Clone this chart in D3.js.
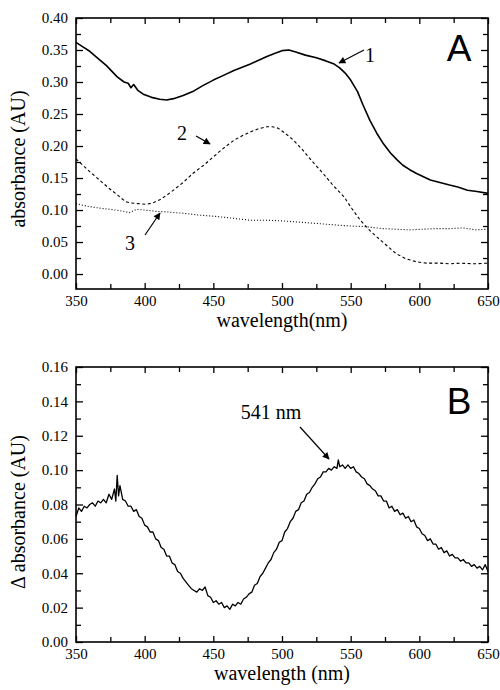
<!DOCTYPE html>
<html>
<head>
<meta charset="utf-8">
<script src="https://cdn.jsdelivr.net/npm/d3@7"></script>
<style>
  body { margin: 0; background: #fff; }
</style>
</head>
<body>
<script>
// ---- data ----
// Panel A, curve 1 (solid)
var wlA1 = [350, 355, 360, 367, 372, 380, 385, 388, 390, 392, 395, 399, 405, 411, 416, 421, 428, 435, 442, 450, 457, 465, 471, 477, 483, 489, 495, 500, 505, 510, 517, 525, 532, 538, 542, 546, 550, 555, 559, 564, 569, 574, 579, 584, 588, 593, 598, 603, 608, 615, 622, 628, 635, 642, 650];
var absA1 = [0.362, 0.355, 0.348, 0.335, 0.326, 0.308, 0.300, 0.298, 0.291, 0.296, 0.287, 0.281, 0.276, 0.273, 0.272, 0.274, 0.279, 0.285, 0.294, 0.303, 0.310, 0.318, 0.323, 0.328, 0.334, 0.340, 0.345, 0.349, 0.350, 0.347, 0.342, 0.338, 0.333, 0.328, 0.322, 0.314, 0.303, 0.285, 0.264, 0.240, 0.220, 0.203, 0.189, 0.178, 0.170, 0.163, 0.157, 0.152, 0.147, 0.143, 0.139, 0.136, 0.131, 0.129, 0.126];

// Panel A, curve 2 (dashed)
var wlA2 = [350, 355, 360, 367, 374, 380, 386, 390, 395, 401, 406, 411, 416, 421, 428, 435, 443, 450, 457, 465, 471, 477, 483, 489, 493, 497, 501, 508, 515, 522, 530, 537, 545, 551, 557, 563, 569, 576, 583, 590, 598, 605, 615, 622, 630, 640, 650];
var absA2 = [0.180, 0.170, 0.160, 0.147, 0.134, 0.124, 0.113, 0.111, 0.110, 0.109, 0.111, 0.116, 0.123, 0.131, 0.143, 0.157, 0.170, 0.183, 0.196, 0.209, 0.216, 0.222, 0.227, 0.230, 0.230, 0.228, 0.222, 0.210, 0.194, 0.176, 0.157, 0.139, 0.121, 0.102, 0.084, 0.070, 0.058, 0.045, 0.032, 0.024, 0.019, 0.017, 0.017, 0.016, 0.017, 0.016, 0.017];

// Panel A, curve 3 (dotted)
var wlA3 = [350, 358, 367, 375, 382, 389, 394, 400, 408, 416, 428, 440, 452, 465, 477, 489, 501, 513, 525, 537, 549, 561, 573, 583, 593, 603, 612, 622, 632, 641, 650];
var absA3 = [0.110, 0.106, 0.103, 0.101, 0.099, 0.096, 0.101, 0.100, 0.098, 0.097, 0.095, 0.092, 0.090, 0.087, 0.084, 0.084, 0.083, 0.081, 0.079, 0.077, 0.075, 0.074, 0.071, 0.070, 0.069, 0.070, 0.071, 0.071, 0.072, 0.069, 0.070];

// Panel B, difference spectrum (noisy trace, read every ~2 nm)
var wlB = [350, 352, 354, 356, 358, 360, 362, 364, 366, 368, 370, 372, 374, 376, 378, 379, 380, 381, 382, 384, 386, 388, 390, 392, 394, 396, 398, 400,
	402, 404, 406, 408, 410, 412, 414, 416, 418, 420, 422, 424, 426, 428, 430, 432, 434, 436, 438, 440, 442, 444, 446, 448, 450,
	452, 454, 456, 458, 460, 462, 464, 466, 468, 470, 472, 474, 476, 478, 480, 482, 484, 486, 488, 490, 492, 494, 496, 498, 500,
	502, 504, 506, 508, 510, 512, 514, 516, 518, 520, 522, 524, 526, 528, 530, 532, 534, 536, 538, 540, 541, 542, 544, 546, 548, 550,
	552, 554, 556, 558, 560, 562, 564, 566, 568, 570, 572, 574, 576, 578, 580, 582, 584, 586, 588, 590, 592, 594, 596, 598, 600,
	602, 604, 606, 608, 610, 612, 614, 616, 618, 620, 622, 624, 626, 628, 630, 632, 634, 636, 638, 640, 642, 644, 646, 648, 650];
var absB = [0.073, 0.078, 0.076, 0.079, 0.078, 0.080, 0.081, 0.079, 0.082, 0.081, 0.083, 0.081, 0.086, 0.083, 0.089, 0.082, 0.097, 0.085, 0.091, 0.083, 0.082, 0.079, 0.079, 0.076, 0.077, 0.073, 0.072, 0.068,
	0.067, 0.064, 0.064, 0.060, 0.059, 0.055, 0.054, 0.050, 0.050, 0.046, 0.045, 0.041, 0.040, 0.037, 0.035, 0.033, 0.031, 0.030, 0.029, 0.031, 0.030, 0.032, 0.027, 0.026, 0.023,
	0.024, 0.022, 0.023, 0.020, 0.021, 0.019, 0.022, 0.021, 0.023, 0.022, 0.025, 0.026, 0.028, 0.029, 0.033, 0.034, 0.038, 0.040, 0.043, 0.046, 0.048, 0.052, 0.054, 0.058, 0.059,
	0.064, 0.066, 0.070, 0.072, 0.076, 0.077, 0.081, 0.082, 0.086, 0.087, 0.090, 0.092, 0.095, 0.096, 0.099, 0.099, 0.101, 0.100, 0.102, 0.101, 0.106, 0.102, 0.103, 0.101, 0.103, 0.101,
	0.102, 0.099, 0.098, 0.096, 0.095, 0.092, 0.091, 0.089, 0.088, 0.085, 0.085, 0.082, 0.082, 0.078, 0.079, 0.076, 0.077, 0.074, 0.075, 0.072, 0.073, 0.070, 0.071, 0.067, 0.066,
	0.063, 0.062, 0.059, 0.060, 0.057, 0.057, 0.054, 0.055, 0.052, 0.053, 0.050, 0.051, 0.049, 0.049, 0.047, 0.048, 0.046, 0.046, 0.044, 0.045, 0.043, 0.044, 0.042, 0.045, 0.041];

var xTicks = [350, 400, 450, 500, 550, 600, 650];
var yTicksA = [0.00, 0.05, 0.10, 0.15, 0.20, 0.25, 0.30, 0.35, 0.40];
var yTicksB = [0.00, 0.02, 0.04, 0.06, 0.08, 0.10, 0.12, 0.14, 0.16];

var width = 500, height = 690;
var serif = "Liberation Serif";
var sans = "Liberation Sans";

var svg = d3.select("body").append("svg")
	.attr("width", width)
	.attr("height", height)
	.style("font-family", serif);

// arrowhead marker
svg.append("defs").append("marker")
	.attr("id", "arrow")
	.attr("viewBox", "0 0 10 10")
	.attr("refX", 9).attr("refY", 5)
	.attr("markerWidth", 9).attr("markerHeight", 7)
	.attr("markerUnits", "userSpaceOnUse")
	.attr("orient", "auto")
	.append("path")
	.attr("d", "M0,0 L10,5 L0,10 z")
	.attr("fill", "#000");

var left = 76, right = 488;

function minorTicks(step, lo, hi) {
	var out = [];
	for (var v = lo; v <= hi + 1e-9; v += step) out.push(+v.toFixed(4));
	return out;
}

// draw one panel: frame, ticks on four sides, labels
function drawPanel(top, bottom, yDomain, yTicks, yMinorStep, xTitle, yTitle, yTitleY) {
	var x = d3.scaleLinear().domain([350, 650]).range([left, right]);
	var y = d3.scaleLinear().domain(yDomain).range([bottom, top]);
	var g = svg.append("g");

	var xMinor = minorTicks(25, 350, 650).filter(function(v) { return xTicks.indexOf(v) < 0; });
	var yMinor = minorTicks(yMinorStep, yDomain[0] < 0 ? 0 : yDomain[0], yDomain[1])
		.filter(function(v) { return yTicks.every(function(t) { return Math.abs(t - v) > 1e-6; }); });

	// major ticks + labels
	g.append("g").attr("transform", "translate(0," + bottom + ")")
		.call(d3.axisBottom(x).tickValues(xTicks).tickSizeInner(-6).tickSizeOuter(0).tickPadding(6)
			.tickFormat(d3.format("d")));
	g.append("g").attr("transform", "translate(0," + top + ")")
		.call(d3.axisTop(x).tickValues(xTicks).tickSizeInner(-6).tickSizeOuter(0).tickFormat(""));
	g.append("g").attr("transform", "translate(" + left + ",0)")
		.call(d3.axisLeft(y).tickValues(yTicks).tickSizeInner(-7).tickSizeOuter(0).tickPadding(8)
			.tickFormat(d3.format(".2f")));
	g.append("g").attr("transform", "translate(" + right + ",0)")
		.call(d3.axisRight(y).tickValues(yTicks).tickSizeInner(-7).tickSizeOuter(0).tickFormat(""));

	// minor ticks
	g.append("g").attr("transform", "translate(0," + bottom + ")")
		.call(d3.axisBottom(x).tickValues(xMinor).tickSizeInner(-5).tickSizeOuter(0).tickFormat(""));
	g.append("g").attr("transform", "translate(0," + top + ")")
		.call(d3.axisTop(x).tickValues(xMinor).tickSizeInner(-5).tickSizeOuter(0).tickFormat(""));
	g.append("g").attr("transform", "translate(" + left + ",0)")
		.call(d3.axisLeft(y).tickValues(yMinor).tickSizeInner(-5).tickSizeOuter(0).tickFormat(""));
	g.append("g").attr("transform", "translate(" + right + ",0)")
		.call(d3.axisRight(y).tickValues(yMinor).tickSizeInner(-5).tickSizeOuter(0).tickFormat(""));

	g.selectAll(".domain").remove();
	g.selectAll("g").attr("font-family", serif).attr("font-size", 15);
	g.selectAll(".tick line").attr("stroke", "#000").attr("stroke-width", 1.3);
	g.selectAll(".tick text")
		.attr("fill", "#000")
		.style("font-family", serif)
		.style("font-size", "15px");

	// frame
	g.append("rect")
		.attr("x", left).attr("y", top)
		.attr("width", right - left).attr("height", bottom - top)
		.attr("fill", "none").attr("stroke", "#000").attr("stroke-width", 1.6);

	// axis titles
	g.append("text")
		.attr("x", (left + right) / 2).attr("y", bottom + 38)
		.attr("text-anchor", "middle")
		.style("font-family", serif)
		.style("font-size", "20px")
		.text(xTitle);
	g.append("text")
		.attr("transform", "translate(25," + yTitleY + ") rotate(-90)")
		.attr("text-anchor", "middle")
		.style("font-family", serif)
		.style("font-size", "20px")
		.text(yTitle);

	return { x: x, y: y, g: g };
}

function drawCurve(p, xs, ys, width, dash) {
	var line = d3.line()
		.x(function(d) { return p.x(d[0]); })
		.y(function(d) { return p.y(d[1]); });
	var pts = xs.map(function(v, i) { return [v, ys[i]]; });
	p.g.append("path")
		.datum(pts)
		.attr("d", line)
		.attr("fill", "none")
		.attr("stroke", "#000")
		.attr("stroke-width", width)
		.attr("stroke-dasharray", dash)
		.attr("stroke-linejoin", "round");
}

function arrow(x1, y1, x2, y2) {
	svg.append("line")
		.attr("x1", x1).attr("y1", y1).attr("x2", x2).attr("y2", y2)
		.attr("stroke", "#000").attr("stroke-width", 1.2)
		.attr("marker-end", "url(#arrow)");
}

function label(x, y, txt, size, family) {
	svg.append("text")
		.attr("x", x).attr("y", y)
		.attr("text-anchor", "middle")
		.style("font-size", size + "px")
		.style("font-family", family || serif)
		.text(txt);
}

// ---- Panel A ----
var pA = drawPanel(18, 289, [-0.0234, 0.40], yTicksA, 0.025, "wavelength(nm)", "absorbance (AU)", 159);
drawCurve(pA, wlA1, absA1, 1.6, null);
drawCurve(pA, wlA2, absA2, 1.1, "3,2.5");
drawCurve(pA, wlA3, absA3, 1.1, "1,2");

label(459, 61, "A", 37, sans);
label(370, 62, "1", 20);
arrow(364, 50, 339, 63);
label(182, 140, "2", 20);
arrow(196, 136, 210, 144);
label(130, 250, "3", 20);
arrow(145, 235, 160, 213);

// ---- Panel B ----
var pB = drawPanel(367, 642, [0, 0.16], yTicksB, 0.01, "wavelength (nm)", "\u0394 absorbance (AU)", 512);
drawCurve(pB, wlB, absB, 1.3, null);

label(459, 414, "B", 37, sans);
label(271, 419, "541 nm", 20);
arrow(300, 427, 329, 459);
</script>
</body>
</html>
